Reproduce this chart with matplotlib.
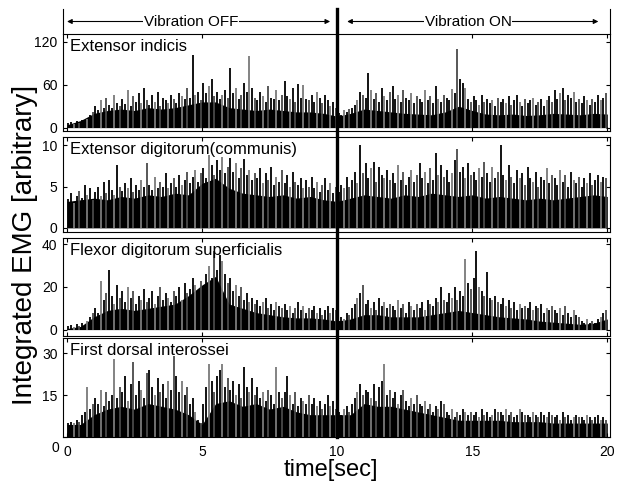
import numpy as np
import matplotlib.pyplot as plt
from matplotlib import transforms
from matplotlib.lines import Line2D

plt.rcParams['font.family'] = ['Liberation Sans', 'DejaVu Sans']

# --- données --------------------------------------------------------------
VIB_ONSET = 10.0      # s, début de la vibration
SPIKE_DT = 0.1        # s, pas des pics
FLOOR_DT = 0.5        # s, pas de l'enveloppe de base

MUSCLES = ["Extensor indicis", "Extensor digitorum(communis)",
           "Flexor digitorum superficialis", "First dorsal interossei"]

# hauteurs des pics (une ligne = 1 s)
ei_spikes = [
    6, 8, 5, 9, 7, 10, 8, 12, 18, 22,
    30, 25, 38, 28, 42, 32, 27, 45, 35, 30,
    40, 33, 52, 30, 44, 36, 48, 34, 55, 38,
    32, 45, 36, 50, 30, 42, 38, 34, 46, 40,
    35, 48, 44, 40, 56, 42, 102, 45, 50, 38,
    62, 48, 58, 68, 44, 50, 40, 46, 52, 42,
    84, 48, 55, 40, 45, 62, 50, 100, 55, 42,
    38, 50, 44, 36, 58, 42, 40, 52, 38, 46,
    65, 44, 40, 56, 36, 61, 42, 60, 40, 38,
    45, 36, 50, 42, 34, 46, 38, 30, 36, 28,
    20, 18, 24, 22, 26, 28, 32, 38, 50, 45,
    42, 77, 52, 40, 48, 36, 55, 44, 38, 50,
    58, 40, 46, 36, 52, 42, 38, 48, 35, 44,
    40, 36, 52, 38, 44, 34, 58, 40, 36, 46,
    42, 38, 54, 48, 110, 68, 62, 55, 40, 36,
    44, 38, 32, 46, 36, 40, 34, 38, 30, 42,
    36, 40, 34, 44, 32, 38, 46, 36, 30, 40,
    34, 38, 42, 32, 36, 40, 30, 38, 44, 36,
    52, 40, 48, 56, 38, 46, 42, 50, 36, 40,
    34, 44, 38, 32, 40, 36, 46, 38, 42, 48,
]
ed_spikes = [
    3.5, 4.2, 3.0, 3.8, 4.5, 3.6, 5.2, 4.0, 4.8, 3.4,
    4.4, 5.0, 3.8, 5.6, 4.2, 5.8, 4.6, 4.0, 7.6, 5.0,
    4.5, 5.4, 4.8, 6.0, 4.4, 5.2, 4.6, 5.8, 5.0, 7.8,
    5.2, 4.6, 6.2, 4.8, 5.6, 5.0, 6.6, 4.8, 5.4, 6.0,
    5.0, 6.4, 5.2, 5.8, 6.8, 5.4, 6.2, 7.0, 5.6, 6.6,
    7.2, 6.0, 8.8, 7.6, 6.4, 8.2, 7.0, 8.6, 6.6, 7.4,
    8.5, 6.8, 7.8, 6.0, 7.2, 8.3, 6.4, 7.0, 5.8, 6.6,
    6.0, 7.2, 5.4, 6.6, 5.8, 7.4, 5.2, 6.2, 5.6, 7.0,
    5.4, 6.4, 5.0, 6.8, 5.6, 5.2, 6.0, 4.8, 5.8, 5.0,
    6.2, 4.8, 5.6, 4.4, 5.2, 6.0, 4.6, 5.4, 4.2, 5.0,
    4.4, 5.2, 4.8, 6.2, 5.0, 5.8, 6.8, 5.4, 10.0, 6.6,
    7.8, 6.0, 7.2, 8.0, 5.6, 7.4, 6.4, 6.0, 7.0, 5.8,
    6.6, 5.4, 7.6, 5.8, 6.8, 5.2, 6.2, 7.0, 5.6, 6.4,
    7.8, 6.0, 6.8, 5.4, 7.2, 5.8, 9.1, 6.4, 7.6, 6.2,
    7.0, 5.6, 6.6, 8.2, 9.6, 6.8, 7.4, 6.0, 7.8, 6.4,
    6.8, 5.8, 7.2, 6.2, 8.0, 6.6, 5.6, 7.4, 6.0, 6.8,
    10.0, 6.4, 5.8, 7.6, 6.2, 5.4, 7.0, 6.0, 6.6, 5.2,
    7.4, 6.0, 5.6, 6.8, 5.0, 6.2, 5.8, 7.2, 5.4, 6.4,
    6.0, 5.2, 7.0, 5.6, 6.4, 5.0, 6.8, 5.8, 5.4, 6.2,
    5.0, 6.0, 5.4, 6.6, 5.2, 5.8, 6.4, 5.6, 6.2, 6.0,
]
fds_spikes = [
    1.5, 2.0, 1.2, 2.5, 1.8, 3.0, 2.2, 4.0, 6.0, 8.0,
    10, 8, 23, 14, 17, 28, 16, 12, 21, 15,
    18, 13, 20, 15, 18, 12, 16, 14, 19, 13,
    15, 18, 12, 16, 20, 14, 17, 15, 13, 18,
    16, 20, 14, 22, 17, 19, 24, 21, 18, 23,
    20, 26, 30, 24, 37, 28, 35, 32, 26, 22,
    24, 18, 21, 16, 20, 14, 17, 13, 15, 12,
    14, 11, 13, 15, 10, 12, 9, 13, 11, 10,
    12, 9, 11, 8, 10, 13, 9, 11, 8, 10,
    9, 11, 8, 10, 7, 9, 11, 8, 10, 9,
    4, 6, 5, 8, 7, 10, 12, 15, 17, 21,
    12, 14, 10, 13, 9, 15, 11, 13, 10, 12,
    11, 9, 14, 10, 12, 8, 13, 11, 9, 12,
    10, 13, 9, 14, 12, 11, 15, 13, 20, 14,
    13, 17, 15, 20, 14, 18, 16, 33, 22, 19,
    24, 37, 20, 18, 16, 27, 15, 14, 16, 13,
    12, 15, 11, 14, 10, 13, 9, 12, 10, 11,
    10, 13, 9, 11, 10, 12, 8, 10, 9, 11,
    9, 8, 10, 7, 11, 8, 6, 9, 7, 6,
    4, 3, 5, 3, 4, 3, 5, 6, 8, 9,
]
fdi_spikes = [
    5, 5.5, 5, 6, 5.5, 8, 9, 18, 10, 12,
    14, 12, 17, 11, 16, 13, 15, 28, 14, 18,
    16, 22, 13, 19, 27, 15, 20, 17, 14, 23,
    24, 18, 15, 21, 16, 19, 14, 20, 17, 29,
    22, 16, 20, 15, 18, 12, 14, 9, 6, 5,
    12, 18, 26, 20, 16, 22, 24, 26, 18, 21,
    17, 20, 15, 19, 14, 25, 18, 16, 21, 15,
    18, 14, 16, 13, 17, 15, 12, 25, 16, 14,
    16, 22, 15, 12, 16, 11, 14, 13, 12, 15,
    12, 14, 11, 13, 10, 12, 15, 11, 13, 10,
    9, 8, 10, 11, 9, 12, 14, 16, 19, 15,
    17, 16, 14, 19, 13, 18, 20, 26, 15, 17,
    14, 16, 12, 15, 17, 13, 11, 14, 12, 15,
    12, 11, 13, 10, 12, 9, 11, 10, 13, 12,
    9, 8, 10, 7, 9, 8, 10, 9, 8, 9,
    8, 9, 7, 10, 8, 9, 7, 8, 10, 9,
    9, 8, 10, 8, 9, 7, 8, 10, 9, 8,
    8, 7, 9, 8, 7, 9, 8, 7, 9, 8,
    7, 8, 6, 9, 7, 8, 6, 7, 8, 7,
    7, 6, 8, 7, 6, 7, 8, 6, 7, 6,
]

# niveau de la masse noire (t = 0, 0.5, ..., 20 s)
ei_floor = [4, 10, 20, 24, 26, 24, 28, 26, 28, 32, 36, 36, 28, 26, 24, 26, 24, 22, 22, 20,
            16, 20, 26, 24, 22, 20, 19, 18, 22, 30, 24, 19, 18, 19, 17, 18, 20, 19, 18, 20, 19]
ed_floor = [3.2, 3.4, 3.6, 3.4, 3.8, 3.6, 4.0, 3.8, 4.2, 4.0, 5.4, 6.0, 4.8, 4.2, 4.0, 3.8,
            4.0, 3.6, 3.8, 3.4, 3.2, 3.6, 4.0, 3.8, 3.6, 4.0, 3.8, 4.2, 4.0, 3.8, 4.0, 3.6,
            3.8, 3.6, 3.4, 3.6, 3.4, 3.6, 3.8, 4.0, 3.8]
fds_floor = [0.5, 1.5, 6, 9, 10, 9, 10, 11, 12, 16, 21, 25, 12, 10, 8, 7, 6, 5.5, 5.5, 5,
             4, 5, 7, 7, 6, 6, 6, 7, 8, 9, 8, 7, 6, 5.5, 5, 4, 3.5, 3, 2.5, 3, 5]
fdi_floor = [4.5, 4.5, 8, 10, 11, 10, 12, 11, 10, 8, 4.5, 12, 13, 11, 12, 10, 11, 9, 8, 8,
             8, 8, 12, 11, 11, 10, 9, 8, 7, 6, 6, 6, 6, 5.5, 5.5, 5.5, 5, 5, 5, 5, 5]

SPIKES = [ei_spikes, ed_spikes, fds_spikes, fdi_spikes]
FLOORS = [ei_floor, ed_floor, fds_floor, fdi_floor]
YTICKS = [[0, 60, 120], [0, 5, 10], [0, 20, 40], [0, 15, 30]]
YLIMS = [(-4.7, 131), (-0.5, 11), (-3, 43), (0, 35.5)]
XTICKS = [0, 5, 10, 15, 20]

# --- mise en page (pixels de l'image 617x490) ------------------------------
W, H = 617, 490
LEFT, RIGHT = 63, 610
PANEL_PX = [(34, 131), (137, 232), (238, 336), (338, 437)]

fig = plt.figure(figsize=(W / 100, H / 100), dpi=100)

spike_colors = ["black", "black", "#7a7a7a", "black", "#4a4a4a"]

axes = []
for i, (top, bot) in enumerate(PANEL_PX):
    ax = fig.add_axes([LEFT / W, 1 - bot / H, (RIGHT - LEFT) / W, (bot - top) / H])
    spikes = np.asarray(SPIKES[i], dtype=float)
    floor = np.asarray(FLOORS[i], dtype=float)
    t_sp = np.arange(len(spikes)) * SPIKE_DT + SPIKE_DT / 2
    t_fl = np.arange(len(floor)) * FLOOR_DT

    ax.fill_between(t_fl, 0, floor, color="black", lw=0)
    cols = [spike_colors[k % len(spike_colors)] for k in range(len(spikes))]
    ax.vlines(t_sp, 0, spikes, colors=cols, lw=1.3)

    ax.set_xlim(-0.15, 20.1)
    ax.set_ylim(*YLIMS[i])
    ax.set_xticks(XTICKS)
    ax.set_yticks(YTICKS[i])
    ax.tick_params(direction="in", top=True, right=True, length=3, width=0.8,
                   labelsize=10, pad=4)
    if i < 3:
        ax.set_xticklabels([])
    else:
        ax.set_yticklabels(["", "15", "30"])
        ax.tick_params(axis="x", pad=6)
    for sp in ax.spines.values():
        sp.set_linewidth(0.8)
    ax.text(0.012, 0.95, MUSCLES[i], transform=ax.transAxes, ha="left", va="top",
            fontsize=12)
    axes.append(ax)

# "0" de l'axe y du dernier panneau, aligné avec les étiquettes en x
fig.text(55 / W, 1 - 448 / H, "0", ha="center", va="center", fontsize=10)

# bandeau supérieur avec les flèches
hdr = fig.add_axes([LEFT / W, 1 - 34 / H, (RIGHT - LEFT) / W, 25 / H])
hdr.set_xlim(-0.15, 20.1)
hdr.set_ylim(0, 1)
hdr.set_xticks([])
hdr.set_yticks([])
hdr.spines["top"].set_visible(False)
hdr.spines["bottom"].set_visible(False)
for sp in ("left", "right"):
    hdr.spines[sp].set_linewidth(0.8)
hdr.patch.set_alpha(0)

arrow = dict(arrowstyle="<|-|>", color="black", lw=0.8, mutation_scale=7,
             shrinkA=0, shrinkB=0)
hdr.annotate("", xy=(0.0, 0.5), xytext=(9.74, 0.5), arrowprops=arrow)
hdr.annotate("", xy=(10.37, 0.5), xytext=(19.67, 0.5), arrowprops=arrow)
hdr.text(4.6, 0.5, "Vibration OFF", ha="center", va="center", fontsize=11,
         bbox=dict(facecolor="white", edgecolor="none", pad=0.5))
hdr.text(14.85, 0.5, "Vibration ON", ha="center", va="center", fontsize=11,
         bbox=dict(facecolor="white", edgecolor="none", pad=0.5))

# trait épais marquant le début de la vibration
trans = transforms.blended_transform_factory(axes[-1].transData, fig.transFigure)
fig.add_artist(Line2D([VIB_ONSET, VIB_ONSET], [1 - 437 / H, 1 - 9 / H],
                      transform=trans, color="black", lw=2.4))

fig.text(25 / W, 0.5, "Integrated EMG [arbitrary]", rotation=90,
         ha="center", va="center", fontsize=20)
fig.text(331 / W, 1 - 470 / H, "time[sec]", ha="center", va="center", fontsize=17)

fig.savefig("out.png", dpi=100)
